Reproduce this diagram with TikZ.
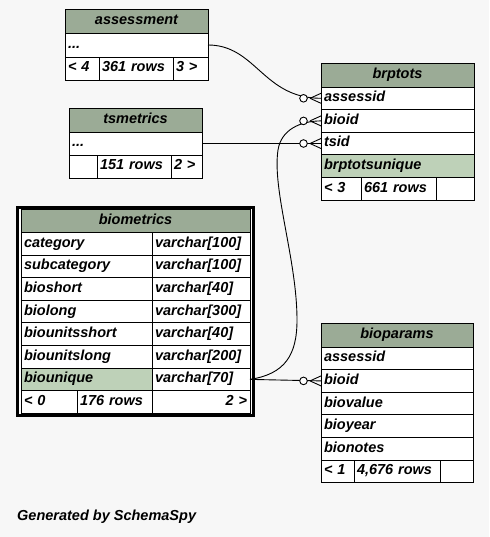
\documentclass[tikz,border=0pt]{standalone}
\usepackage{fontspec}
\setmainfont{Liberation Sans}
\usepackage{tikz}

\definecolor{pagebg}{HTML}{F7F7F7}
\definecolor{headgreen}{HTML}{9BAB96}
\definecolor{uniqgreen}{HTML}{BED1B8}

\newcommand{\tabfont}{\fontsize{14.5}{16}\selectfont\bfseries\itshape}
% crow's foot with open circle, drawn at a table edge
\newcommand{\manyend}[1]{%
  \draw[line width=0.9pt] ([xshift=-11pt]#1) -- ([yshift=5pt]#1)
    ([xshift=-11pt]#1) -- ([yshift=-5pt]#1);
  \draw[line width=0.9pt,fill=white] ([xshift=-17.5pt]#1) circle (3.8pt);}

\tikzset{
  cell/.style={draw, line width=0.9pt, fill=white, anchor=north west, outer sep=0pt,
    inner xsep=3pt, inner ysep=0pt, text height=10pt, text depth=3pt,
    minimum height=22.6pt, align=left, font=\tabfont},
  head/.style={cell, fill=headgreen, align=center, minimum height=24pt},
  uniq/.style={cell, fill=uniqgreen},
  link/.style={line width=0.9pt},
}

\begin{document}
\begin{tikzpicture}[x=1pt,y=-1pt]
\fill[pagebg] (0,0) rectangle (489,537);
\useasboundingbox (0,0) rectangle (489,537);

% assessment
\node[head, text width=137pt] (asmt-hdr) at (65,9) {assessment};
\node[cell, text width=137pt, minimum height=24pt] (asmt-dots) at (65,33) {...};
\node[cell, text width=28pt, minimum height=23pt] (asmt-prev) at (65,57) {< 4};
\node[cell, text width=68pt, minimum height=23pt] (asmt-rows) at (99,57) {361 rows};
\node[cell, text width=29pt, minimum height=23pt] (asmt-next) at (173,57) {3 >};

% tsmetrics
\node[head, text width=127pt] (tsm-hdr) at (69,108) {tsmetrics};
\node[cell, text width=127pt, minimum height=23pt] (tsm-dots) at (69,132) {...};
\node[cell, text width=22pt, minimum height=23pt] (tsm-prev) at (69,155) {};
\node[cell, text width=68pt, minimum height=23pt] (tsm-rows) at (97,155) {151 rows};
\node[cell, text width=25pt, minimum height=23pt] (tsm-next) at (171,155) {2 >};

% brptots
\node[head, text width=147pt] (brp-hdr) at (321,63) {brptots};
\node[cell, text width=147pt] (brp-assessid) at (321,87) {assessid};
\node[cell, text width=147pt] (brp-bioid) at (321,109.6) {bioid};
\node[cell, text width=147pt] (brp-tsid) at (321,132.2) {tsid};
\node[uniq, text width=147pt] (brp-unique) at (321,154.8) {brptotsunique};
\node[cell, text width=34pt] (brp-prev) at (321,177.4) {< 3};
\node[cell, text width=69pt] (brp-rows) at (361,177.4) {661 rows};
\node[cell, text width=32pt] (brp-next) at (436,177.4) {};

% biometrics (focus table, double frame)
\draw[line width=3pt, fill=white] (17.5,207.5) rectangle (253,415.5);
\node[head, text width=223pt, minimum height=23pt] (bm-hdr) at (21,209.5) {biometrics};
\node[cell, text width=125pt] (bm-category) at (21,232.5) {category};
\node[cell, text width=92pt] (bm-categorytype) at (152,232.5) {varchar[100]};
\node[cell, text width=125pt] (bm-subcat) at (21,255.1) {subcategory};
\node[cell, text width=92pt] (bm-subcattype) at (152,255.1) {varchar[100]};
\node[cell, text width=125pt] (bm-bioshort) at (21,277.7) {bioshort};
\node[cell, text width=92pt] (bm-bioshorttype) at (152,277.7) {varchar[40]};
\node[cell, text width=125pt] (bm-biolong) at (21,300.3) {biolong};
\node[cell, text width=92pt] (bm-biolongtype) at (152,300.3) {varchar[300]};
\node[cell, text width=125pt] (bm-unitsshort) at (21,322.9) {biounitsshort};
\node[cell, text width=92pt] (bm-unitsshorttype) at (152,322.9) {varchar[40]};
\node[cell, text width=125pt] (bm-unitslong) at (21,345.5) {biounitslong};
\node[cell, text width=92pt] (bm-unitslongtype) at (152,345.5) {varchar[200]};
\node[uniq, text width=125pt] (bm-unique) at (21,368.1) {biounique};
\node[cell, text width=92pt] (bm-uniquetype) at (152,368.1) {varchar[70]};
\node[cell, text width=50pt] (bm-prev) at (21,390.7) {< 0};
\node[cell, text width=69pt] (bm-rows) at (77,390.7) {176 rows};
\node[cell, text width=92pt, align=right] (bm-next) at (152,390.7) {2 >};

% bioparams
\node[head, text width=146pt] (bp-hdr) at (321,323) {bioparams};
\node[cell, text width=146pt] (bp-assessid) at (321,347) {assessid};
\node[cell, text width=146pt] (bp-bioid) at (321,369.6) {bioid};
\node[cell, text width=146pt] (bp-biovalue) at (321,392.2) {biovalue};
\node[cell, text width=146pt] (bp-bioyear) at (321,414.8) {bioyear};
\node[cell, text width=146pt] (bp-bionotes) at (321,437.4) {bionotes};
\node[cell, text width=27pt] (bp-prev) at (321,460) {< 1};
\node[cell, text width=80pt] (bp-rows) at (354,460) {4,676 rows};
\node[cell, text width=27pt] (bp-next) at (440,460) {};

% relationships
\draw[link] (asmt-dots.east) .. controls +(48,0) and +(-58,0) .. (brp-assessid.west);
\draw[link] (tsm-dots.east) -- (brp-tsid.west);
\draw[link] (bm-uniquetype.east) -- (bp-bioid.west);
\draw[link] (bm-uniquetype.east) .. controls (285,374) and (297,355) .. (297,320)
  .. controls (297,260) and (272,190) .. (278,150)
  .. controls (281,130) and (300,121) .. (brp-bioid.west);
\manyend{brp-assessid.west}
\manyend{brp-bioid.west}
\manyend{brp-tsid.west}
\manyend{bp-bioid.west}

\node[anchor=west, font=\tabfont, inner sep=0pt] (credit) at (17,517) {Generated by SchemaSpy};
\end{tikzpicture}
\end{document}
